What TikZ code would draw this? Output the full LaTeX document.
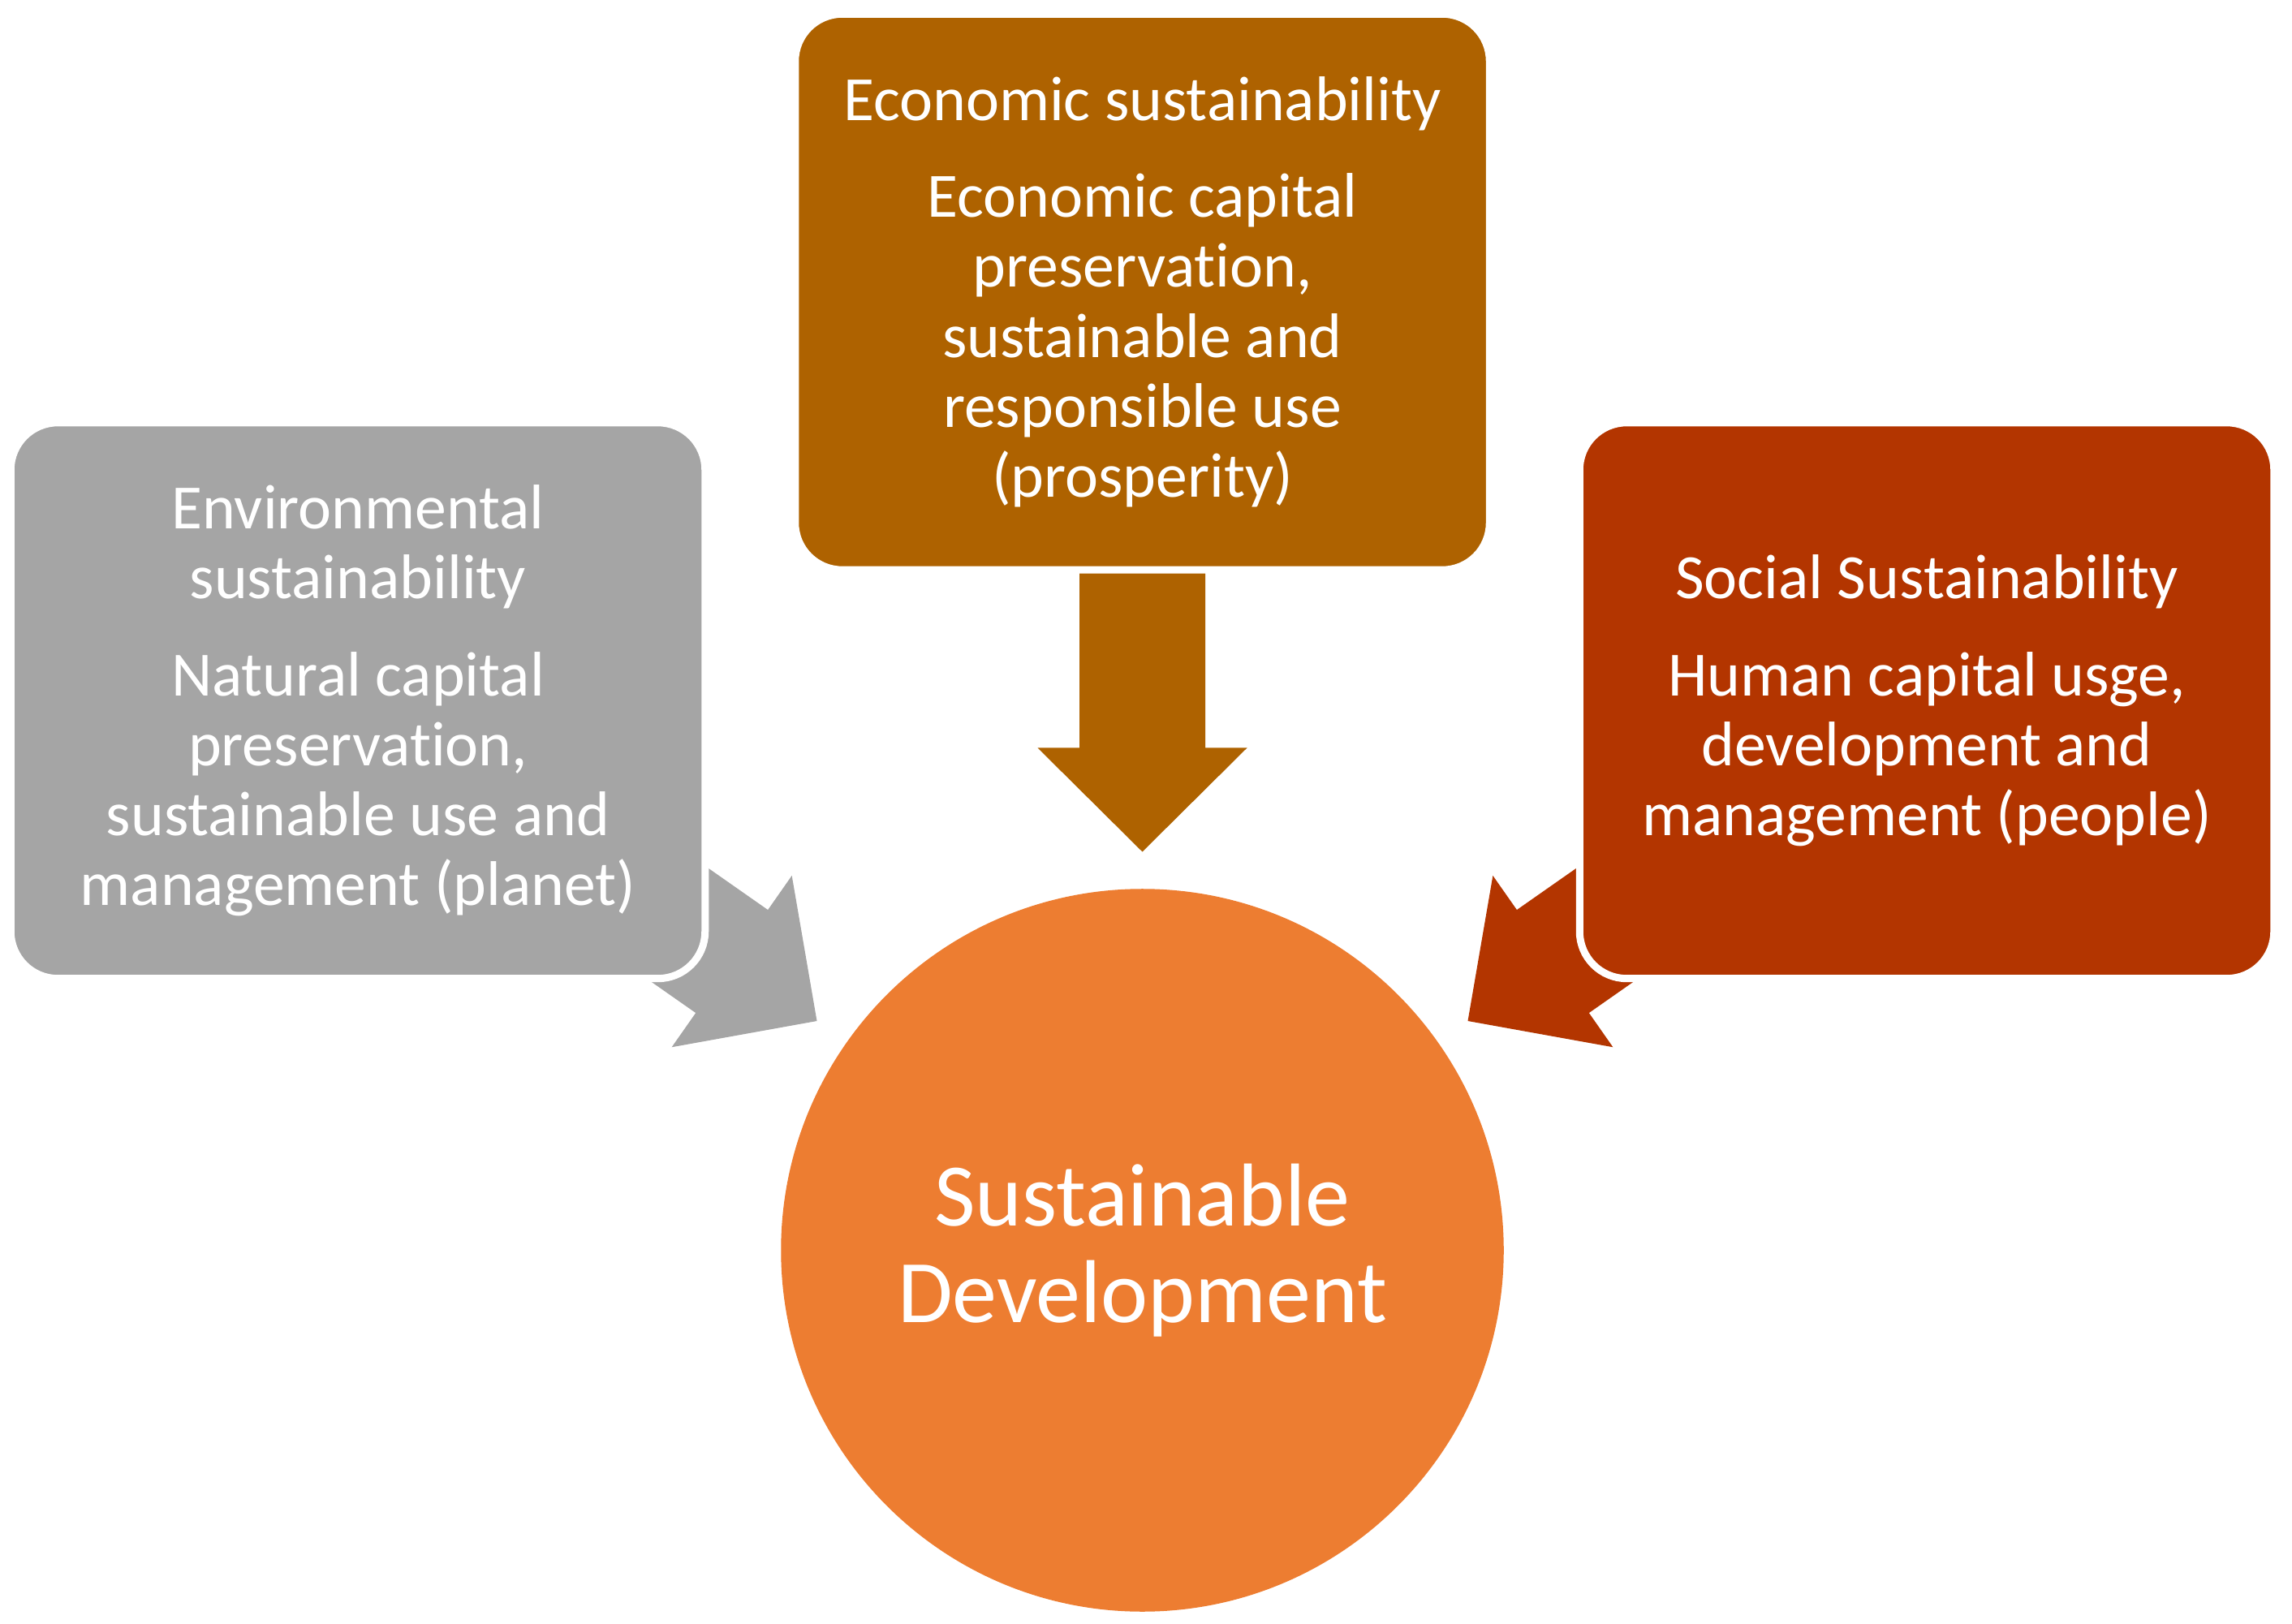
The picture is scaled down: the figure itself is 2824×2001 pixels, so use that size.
\documentclass[tikz,border=0pt]{standalone}
\usepackage{fontspec}
\setmainfont{Carlito}[Ligatures=NoCommon]
\usetikzlibrary{positioning, backgrounds}
\definecolor{envgray}{HTML}{A5A5A5}
\definecolor{ecobrown}{HTML}{AE6200}
\definecolor{socred}{HTML}{B33500}
\definecolor{huborange}{HTML}{ED7D31}
\tikzset{
    box/.style={rectangle, rounded corners=0.58cm, draw=white, line width=0.09cm, minimum width=8.55cm, minimum height=6.845cm, text=white, align=center, font=\fontsize{22.1}{24.5}\selectfont},
    envbox/.style={box, fill=envgray},
    ecobox/.style={box, fill=ecobrown},
    socbox/.style={box, fill=socred},
    hub/.style={circle, fill=huborange, minimum size=8.9cm, text=white, align=center, font=\fontsize{31.3}{34}\selectfont}
}
\begin{document}
\begin{tikzpicture}[x=0.01cm, y=0.01cm]
    \useasboundingbox (0,0) rectangle (2824,-2001);
    % Nodes
    \node (eco) [ecobox] at (1407.5,-359.75) {Economic sustainability\\[9.4pt] Economic capital\\ preservation,\\ sustainable and\\ responsible use\\ (prosperity)};
    \node (env) [envbox] at (441,-863.25) {Environmental\\ sustainability\\[9.4pt] Natural capital\\ preservation,\\ sustainable use and\\ management (planet)};
    \node (soc) [socbox] at (2374,-863.25) {Social Sustainability\\[9.4pt] Human capital usge,\\ development and\\ management (people)};
    \node (sd) [hub] at (1407.5,-1540.5) {Sustainable\\ Development};
    % Arrows
    \coordinate (envTip) at (1006.5,-1258);
    \coordinate (ecoTip) at (eco.south |- 0,-1049.5);
    \coordinate (socTip) at (1808.5,-1258);
    \begin{scope}[on background layer]
        \foreach \tip/\ang/\col in {envTip/-35/envgray, ecoTip/-90/ecobrown, socTip/215/socred}
            \fill[\col, shift={(\tip)}, rotate=\ang] (0,0) -- (-128,129) -- (-128,77.5) -- (-347.5,77.5) -- (-347.5,-77.5) -- (-128,-77.5) -- (-128,-129) -- cycle;
    \end{scope}
\end{tikzpicture}
\end{document}
